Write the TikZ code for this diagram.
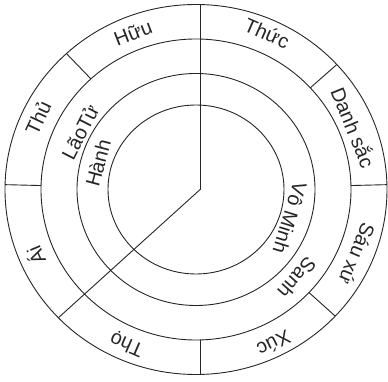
\documentclass[tikz,border=0pt]{standalone}
\usepackage{fontspec}
\setmainfont{Liberation Sans}
\begin{document}
\begin{tikzpicture}[x=1pt,y=1pt,
  ln/.style={line width=0.9pt, draw=black!85},
  lab/.style={font=\fontsize{20}{23}\selectfont, text=black!85, inner sep=0pt}]
\useasboundingbox (0,0) rectangle (388,382);
\fill[white] (0,0) rectangle (388,382);
\coordinate (c) at (196,192.5);
\coordinate (j) at (200.7,193);
% circles
\draw[ln] (c) ellipse [x radius=191, y radius=185];
\draw[ln] (c) ellipse [x radius=155, y radius=150.5];
\draw[ln] (c) ellipse [x radius=119, y radius=116];
\draw[ln] (c) ellipse [x radius=88, y radius=84.5];
% main radial lines
\coordinate (top) at (200.7,377.4);
\draw[ln] (j) -- (top);
\path (c) ++(223.9:191 and 185) coordinate (diag);
\draw[ln] (j) -- (diag);
% outer ring dividers
\coordinate (bi) at (200.7,42.1);
\coordinate (bo) at (200.7,7.5);
\draw[ln] (bi) -- (bo);
\path (c) ++(132.7:155 and 150.5) coordinate (s2i);
\path (c) ++(132.7:191 and 185) coordinate (s2o);
\draw[ln] (s2i) -- (s2o);
\path (c) ++(178.5:155 and 150.5) coordinate (s3i);
\path (c) ++(178.5:191 and 185) coordinate (s3o);
\draw[ln] (s3i) -- (s3o);
\path (c) ++(-43.2:155 and 150.5) coordinate (s6i);
\path (c) ++(-43.2:191 and 185) coordinate (s6o);
\draw[ln] (s6i) -- (s6o);
\path (c) ++(1.5:155 and 150.5) coordinate (s7i);
\path (c) ++(1.5:191 and 185) coordinate (s7o);
\draw[ln] (s7i) -- (s7o);
\path (c) ++(42.5:155 and 150.5) coordinate (s8i);
\path (c) ++(42.5:191 and 185) coordinate (s8o);
\draw[ln] (s8i) -- (s8o);
% outer ring labels
\node[lab, rotate=21.3] (huu) at (133,349) {Hữu};
\node[lab, rotate=-23.7] (thuc) at (267,349) {Thức};
\node[lab, rotate=-67.8] (danhsac) at (354,255) {Danh sắc};
\node[lab, rotate=-112.5] (sauxu) at (357,128) {Sáu xứ};
\node[lab, rotate=-153.9] (xuc) at (274,38) {Xúc};
\node[lab, rotate=156.5] (tho) at (127,38) {Thọ};
\node[lab, rotate=113] (ai) at (35,126) {Ái};
\node[lab, rotate=65] (thu) at (38,264) {Thủ};
% middle ring labels
\node[lab, rotate=63] (laotu) at (80,250) {LãoTử};
\node[lab, rotate=-131.2] (sanh) at (297,104) {Sanh};
% inner ring labels
\node[lab, rotate=75] (hanh) at (98,219) {Hành};
\node[lab, rotate=-107] (vominh) at (290,164) {Vô Minh};
\end{tikzpicture}
\end{document}
